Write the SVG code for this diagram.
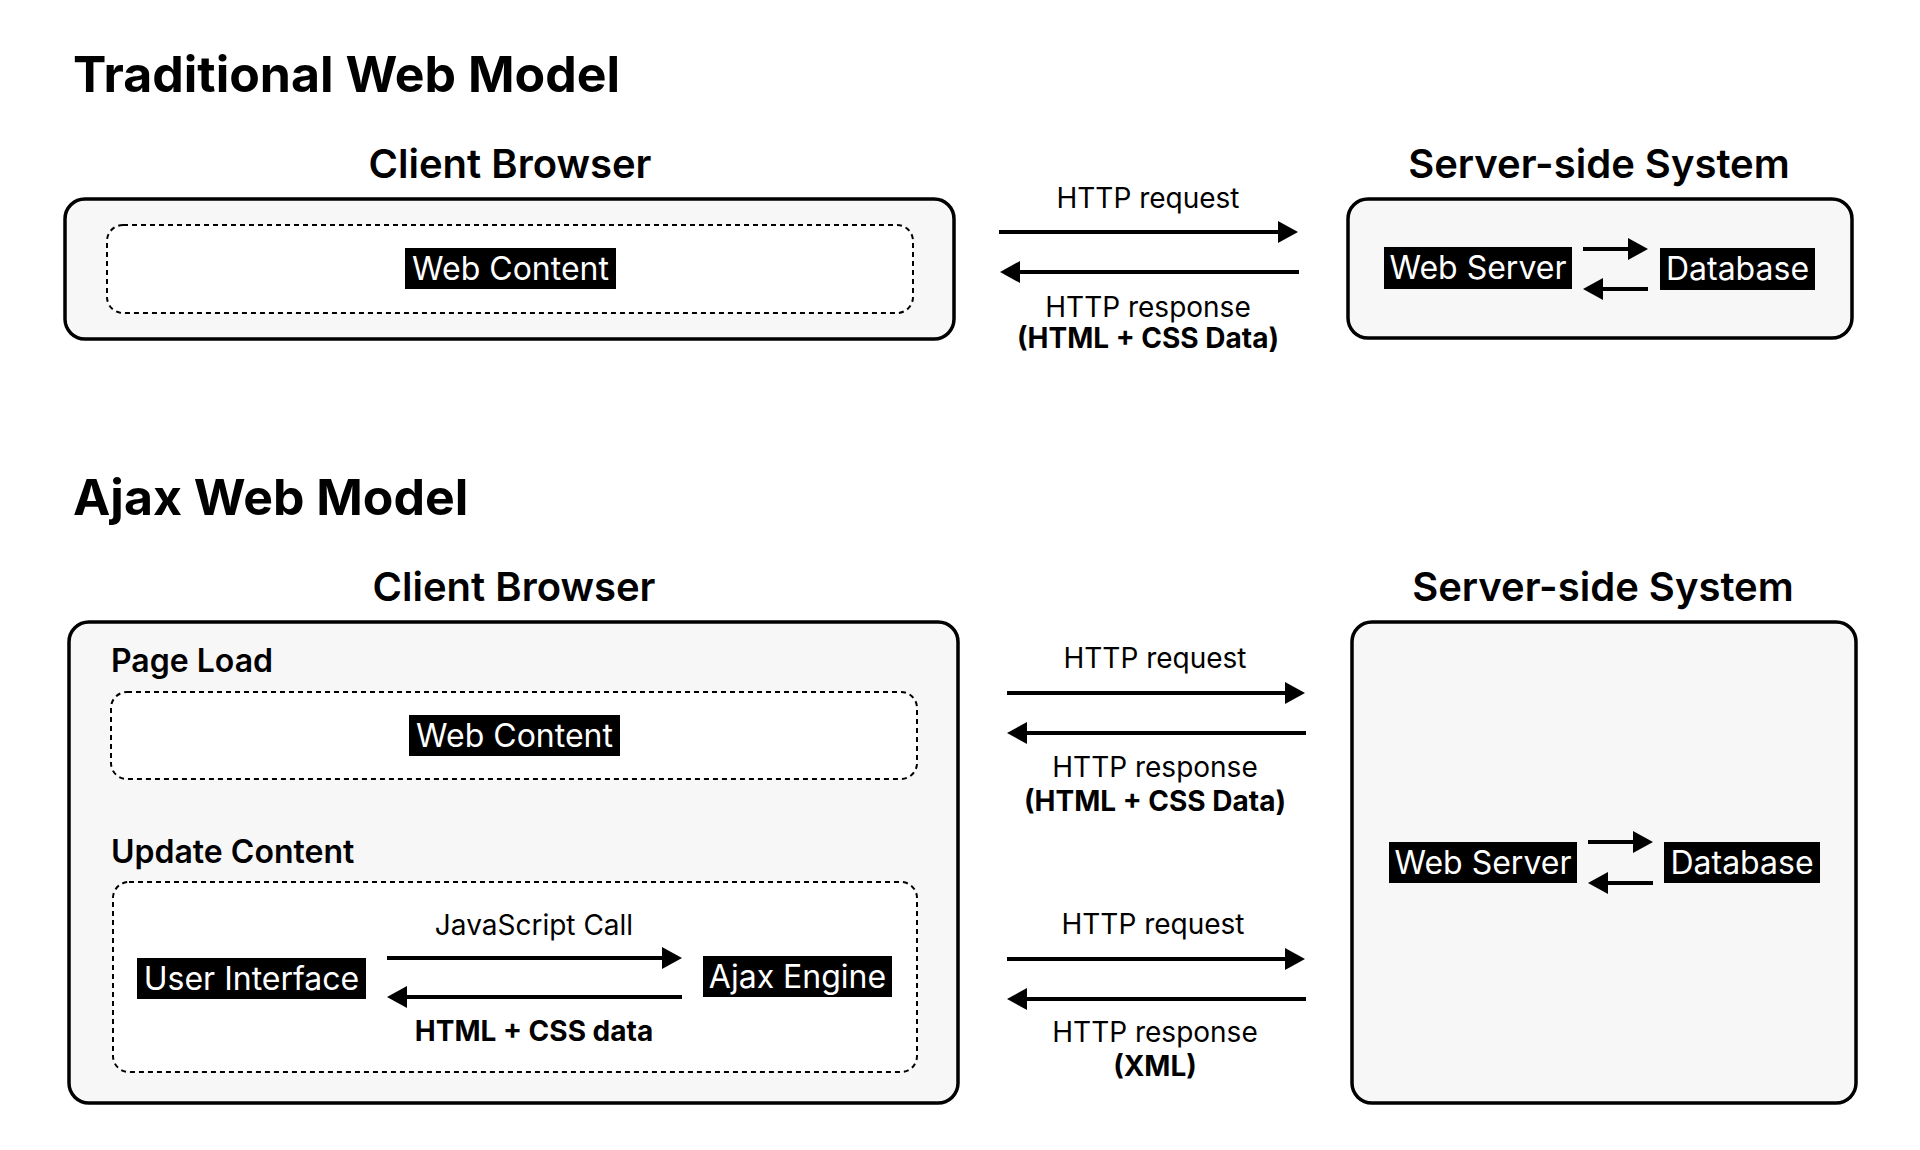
<svg xmlns="http://www.w3.org/2000/svg" width="1920" height="1150" viewBox="0 0 1920 1150">
<defs>
<style>
text{font-family:Inter,"Noto Sans","Liberation Sans",sans-serif;fill:#000}
.title{font-size:50px;font-weight:700}
.sec{font-size:40px;font-weight:600;text-anchor:middle}
.sub{font-size:32px;font-weight:600}
.lbl{font-size:32px;fill:#fff;text-anchor:middle}
.lblbg{fill:#000}
.msg{font-size:28px;text-anchor:middle}
.msgb{font-size:28px;font-weight:700;text-anchor:middle}
.box{fill:#f7f7f7;stroke:#000;stroke-width:3.5}
.dash{fill:#fff;stroke:#000;stroke-width:2;stroke-dasharray:5 4}
.arr{stroke:#000;stroke-width:4;fill:none;marker-end:url(#ah)}
</style>
<marker id="ah" markerUnits="userSpaceOnUse" markerWidth="20" markerHeight="22" refX="5" refY="11" orient="auto">
<path d="M0,0 L20,11 L0,22 z" fill="#000"/>
</marker>
</defs>
<rect width="1920" height="1150" fill="#fff"/>

<g id="traditional">
<text class="title" x="73" y="92">Traditional Web Model</text>
<g id="trad-client">
<text class="sec" x="510" y="178">Client Browser</text>
<rect class="box" x="65" y="199" width="889" height="140" rx="20"/>
<rect class="dash" x="107" y="225" width="806" height="88" rx="16"/>
<g id="trad-webcontent">
<rect class="lblbg" x="405" y="248" width="211" height="41"/>
<text class="lbl" x="510.5" y="280">Web Content</text>
</g>
</g>
<g id="trad-server">
<text class="sec" x="1599" y="178">Server-side System</text>
<rect class="box" x="1348" y="199" width="504" height="139" rx="20"/>
<g id="trad-webserver">
<rect class="lblbg" x="1384" y="247" width="188" height="42"/>
<text class="lbl" x="1478" y="279">Web Server</text>
</g>
<g id="trad-database">
<rect class="lblbg" x="1660" y="248" width="155" height="42"/>
<text class="lbl" x="1737.5" y="280">Database</text>
</g>
</g>
<g id="trad-labels">
<text class="msg" x="1148" y="208">HTTP request</text>
<text class="msg" x="1148" y="317">HTTP response</text>
<text class="msgb" x="1148" y="348">(HTML + CSS Data)</text>
</g>
</g>

<g id="ajax">
<text class="title" x="73" y="515">Ajax Web Model</text>
<g id="ajax-client">
<text class="sec" x="514" y="601">Client Browser</text>
<rect class="box" x="69" y="622" width="889" height="481" rx="20"/>
<text class="sub" x="111" y="672">Page Load</text>
<rect class="dash" x="111" y="692" width="806" height="87" rx="16"/>
<g id="ajax-webcontent">
<rect class="lblbg" x="409" y="715" width="211" height="41"/>
<text class="lbl" x="514.5" y="747">Web Content</text>
</g>
<text class="sub" x="111" y="863">Update Content</text>
<rect class="dash" x="113" y="882" width="804" height="190" rx="16"/>
<g id="ajax-ui">
<rect class="lblbg" x="137" y="958" width="229" height="41"/>
<text class="lbl" x="251.5" y="990">User Interface</text>
</g>
<g id="ajax-engine">
<rect class="lblbg" x="703" y="956" width="189" height="41"/>
<text class="lbl" x="797.5" y="988">Ajax Engine</text>
</g>
<text class="msg" x="534" y="935">JavaScript Call</text>
<text class="msgb" x="534" y="1041">HTML + CSS data</text>
</g>
<g id="ajax-server">
<text class="sec" x="1603" y="601">Server-side System</text>
<rect class="box" x="1352" y="622" width="504" height="481" rx="20"/>
<g id="ajax-webserver">
<rect class="lblbg" x="1389" y="842" width="188" height="41"/>
<text class="lbl" x="1483" y="874">Web Server</text>
</g>
<g id="ajax-database">
<rect class="lblbg" x="1664" y="842" width="156" height="41"/>
<text class="lbl" x="1742" y="874">Database</text>
</g>
</g>
<g id="ajax-labels">
<text class="msg" x="1155" y="668">HTTP request</text>
<text class="msg" x="1155" y="777">HTTP response</text>
<text class="msgb" x="1155" y="811">(HTML + CSS Data)</text>
<text class="msg" x="1153" y="934">HTTP request</text>
<text class="msg" x="1155" y="1042">HTTP response</text>
<text class="msgb" x="1155" y="1076">(XML)</text>
</g>
</g>

<g id="connectors">
<path class="arr" d="M999,232 H1283"/>
<path class="arr" d="M1299,272 H1015"/>
<path class="arr" d="M1583,249 H1633"/>
<path class="arr" d="M1648,289 H1598"/>
<path class="arr" d="M1007,693 H1290"/>
<path class="arr" d="M1306,733 H1022"/>
<path class="arr" d="M1007,959 H1290"/>
<path class="arr" d="M1306,999 H1022"/>
<path class="arr" d="M1588,842 H1638"/>
<path class="arr" d="M1653,883 H1603"/>
<path class="arr" d="M387,958 H667"/>
<path class="arr" d="M682,997 H402"/>
</g>
</svg>
